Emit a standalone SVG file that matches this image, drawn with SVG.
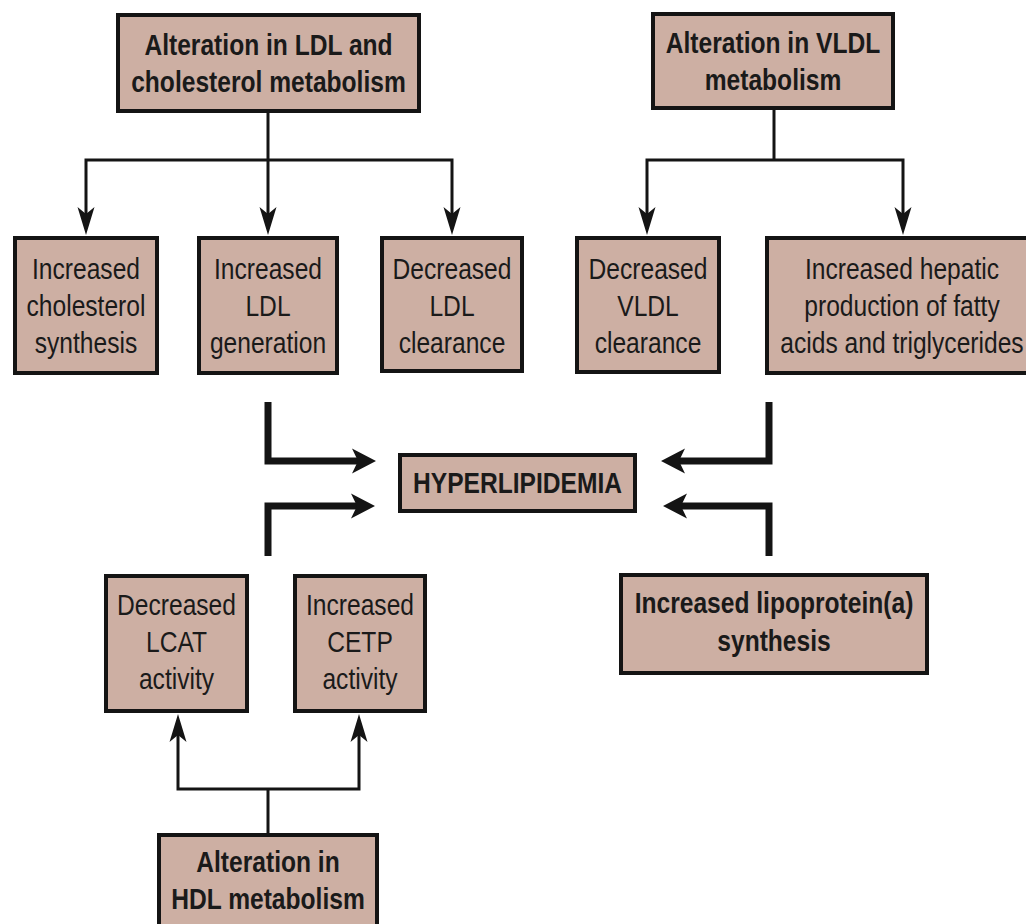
<svg xmlns="http://www.w3.org/2000/svg" width="1026" height="924" viewBox="0 0 1026 924">
<style>
  .box { fill: #cdafa3; stroke: #141414; stroke-width: 4; }
  text { font-family: "Liberation Sans", Arial, sans-serif; font-size: 30px; fill: #1a1a1a; text-anchor: middle; }
  .b { font-weight: bold; }
  .thin { fill: none; stroke: #141414; stroke-width: 3; marker-end: url(#ah); }
  .link { fill: none; stroke: #141414; stroke-width: 3; }
  .thick { fill: none; stroke: #141414; stroke-width: 7; stroke-linejoin: miter; marker-end: url(#bh); }
</style>
<defs>
  <marker id="ah" markerUnits="userSpaceOnUse" markerWidth="30" markerHeight="20" refX="8" refY="0" orient="auto" overflow="visible">
    <path d="M0,-8.5 L28,0 L0,8.5 L7,0 Z" fill="#141414"/>
  </marker>
  <marker id="bh" markerUnits="userSpaceOnUse" markerWidth="26" markerHeight="26" refX="7" refY="0" orient="auto" overflow="visible">
    <path d="M0,-12.5 L24,0 L0,12.5 L6,0 Z" fill="#141414"/>
  </marker>
</defs>
<rect width="1026" height="924" fill="#ffffff"/>

<g id="connectors">
  <path class="link" d="M268,113 V160"/>
  <path class="thin" d="M268,160 H86 V215"/>
  <path class="thin" d="M268,160 V215"/>
  <path class="thin" d="M268,160 H452 V215"/>
  <path class="link" d="M774,110 V160"/>
  <path class="thin" d="M774,160 H647 V215"/>
  <path class="thin" d="M774,160 H903 V215"/>
  <path class="link" d="M268,833 V789"/>
  <path class="thin" d="M268,789 H178 V734"/>
  <path class="thin" d="M268,789 H359 V734"/>
  <path class="thick" d="M268,402 V461 H359"/>
  <path class="thick" d="M268,556 V506 H358"/>
  <path class="thick" d="M769,402 V461 H678"/>
  <path class="thick" d="M769,556 V506 H680"/>
</g>

<g id="ldl-alteration">
  <rect class="box" x="118" y="15" width="301" height="96"/>
  <text class="b" transform="translate(268.5 55) scale(0.82 1)">Alteration in LDL and</text>
  <text class="b" transform="translate(268.5 92) scale(0.82 1)">cholesterol metabolism</text>
</g>
<g id="vldl-alteration">
  <rect class="box" x="653" y="14" width="240" height="94"/>
  <text class="b" transform="translate(773 53) scale(0.82 1)">Alteration in VLDL</text>
  <text class="b" transform="translate(773 90) scale(0.82 1)">metabolism</text>
</g>
<g id="chol-synthesis">
  <rect class="box" x="15" y="238" width="142" height="135"/>
  <text transform="translate(86 279) scale(0.82 1)">Increased</text>
  <text transform="translate(86 316) scale(0.82 1)">cholesterol</text>
  <text transform="translate(86 353) scale(0.82 1)">synthesis</text>
</g>
<g id="ldl-generation">
  <rect class="box" x="199" y="238" width="138" height="135"/>
  <text transform="translate(268 279) scale(0.82 1)">Increased</text>
  <text transform="translate(268 316) scale(0.82 1)">LDL</text>
  <text transform="translate(268 353) scale(0.82 1)">generation</text>
</g>
<g id="ldl-clearance">
  <rect class="box" x="382" y="238" width="140" height="133"/>
  <text transform="translate(452 279) scale(0.82 1)">Decreased</text>
  <text transform="translate(452 316) scale(0.82 1)">LDL</text>
  <text transform="translate(452 353) scale(0.82 1)">clearance</text>
</g>
<g id="vldl-clearance">
  <rect class="box" x="577" y="238" width="142" height="134"/>
  <text transform="translate(648 279) scale(0.82 1)">Decreased</text>
  <text transform="translate(648 316) scale(0.82 1)">VLDL</text>
  <text transform="translate(648 353) scale(0.82 1)">clearance</text>
</g>
<g id="hepatic-production">
  <rect class="box" x="767" y="238" width="280" height="135"/>
  <text transform="translate(902 279) scale(0.82 1)">Increased hepatic</text>
  <text transform="translate(902 316) scale(0.82 1)">production of fatty</text>
  <text transform="translate(902 353) scale(0.82 1)">acids and triglycerides</text>
</g>
<g id="hyperlipidemia">
  <rect class="box" x="400" y="455" width="235" height="56"/>
  <text class="b" transform="translate(517.5 493) scale(0.82 1)">HYPERLIPIDEMIA</text>
</g>
<g id="lcat">
  <rect class="box" x="106" y="576" width="141" height="135"/>
  <text transform="translate(176.5 615) scale(0.82 1)">Decreased</text>
  <text transform="translate(176.5 652) scale(0.82 1)">LCAT</text>
  <text transform="translate(176.5 689) scale(0.82 1)">activity</text>
</g>
<g id="cetp">
  <rect class="box" x="295" y="576" width="130" height="135"/>
  <text transform="translate(360 615) scale(0.82 1)">Increased</text>
  <text transform="translate(360 652) scale(0.82 1)">CETP</text>
  <text transform="translate(360 689) scale(0.82 1)">activity</text>
</g>
<g id="hdl-alteration">
  <rect class="box" x="159" y="835" width="218" height="100"/>
  <text class="b" transform="translate(268 872) scale(0.82 1)">Alteration in</text>
  <text class="b" transform="translate(268 909) scale(0.82 1)">HDL metabolism</text>
</g>
<g id="lipoprotein-a">
  <rect class="box" x="621" y="575" width="306" height="98"/>
  <text class="b" transform="translate(774 613) scale(0.82 1)">Increased lipoprotein(a)</text>
  <text class="b" transform="translate(774 651) scale(0.82 1)">synthesis</text>
</g>
</svg>
